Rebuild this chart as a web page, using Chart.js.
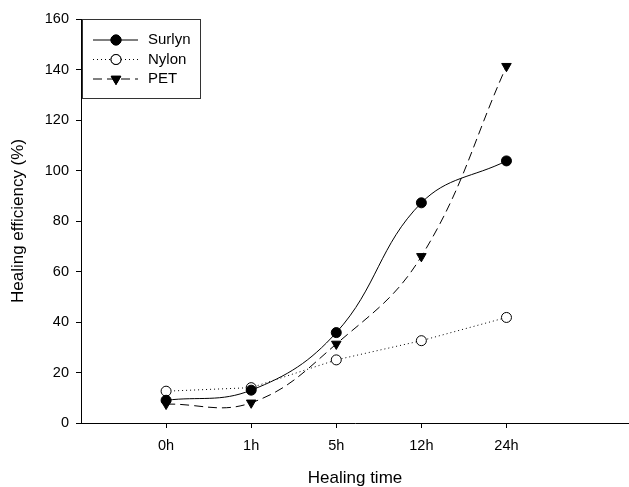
<!DOCTYPE html>
<html>
<head>
<meta charset="utf-8">
<script src="https://cdn.jsdelivr.net/npm/chart.js@4"></script>
<style>
  html, body { margin: 0; padding: 0; background: #fff; }
  #wrap { width: 629px; height: 487px; }
</style>
</head>
<body>
<div id="wrap"><canvas id="healChart"></canvas></div>
<script>
// Healing efficiency vs time
const times = ['0h', '1h', '5h', '12h', '24h'];
const surlyn = [9, 13, 35.8, 87.2, 103.8];
const nylon = [12.6, 14, 25, 32.6, 41.8];
const pet = [7.5, 8, 31.3, 66, 141.3];
const yTicks = [0, 20, 40, 60, 80, 100, 120, 140, 160];

const toPoints = vals => vals.map((v, i) => ({ x: i, y: v }));
const font = 'Liberation Sans, Arial, sans-serif';

// legend drawn inside the plot, top-left, like the original figure
const boxLegend = {
    id: 'boxLegend',
    afterDraw(chart) {
        const ctx = chart.ctx;
        const area = chart.chartArea;
        const x0 = area.left + 1, y0 = area.top, w = 118, h = 79;
        ctx.save();
        ctx.strokeStyle = '#333';
        ctx.lineWidth = 1;
        ctx.strokeRect(x0 + 0.5, y0 + 0.5, w, h);
        chart.data.datasets.forEach((ds, i) => {
            const y = y0 + 21 + i * 19.5;
            ctx.beginPath();
            ctx.setLineDash(ds.borderDash || []);
            ctx.strokeStyle = '#000';
            ctx.moveTo(x0 + 11, y);
            ctx.lineTo(x0 + 56, y);
            ctx.stroke();
            ctx.setLineDash([]);
            Chart.helpers.drawPoint(ctx, {
                pointStyle: ds.pointStyle,
                radius: ds.pointRadius,
                rotation: ds.pointRotation || 0,
                borderWidth: 1
            }, x0 + 34, y);
            ctx.fillStyle = ds.pointBackgroundColor;
            ctx.strokeStyle = '#000';
            ctx.fill();
            ctx.stroke();
            ctx.fillStyle = '#000';
            ctx.font = '15px ' + font;
            ctx.textBaseline = 'middle';
            ctx.fillText(ds.label, x0 + 66, y);
        });
        ctx.restore();
    }
};

new Chart(document.getElementById('healChart'), {
    type: 'line',
    data: {
        datasets: [
            {
                label: 'Surlyn',
                data: toPoints(surlyn),
                borderColor: '#000',
                borderWidth: 1,
                tension: 0.4,
                pointStyle: 'circle',
                pointRadius: 5,
                pointBackgroundColor: '#000',
                pointBorderColor: '#000'
            },
            {
                label: 'Nylon',
                data: toPoints(nylon),
                borderColor: '#000',
                borderWidth: 1,
                borderDash: [1, 3],
                tension: 0,
                pointStyle: 'circle',
                pointRadius: 5,
                pointBackgroundColor: '#fff',
                pointBorderColor: '#000'
            },
            {
                label: 'PET',
                data: toPoints(pet),
                borderColor: '#000',
                borderWidth: 1,
                borderDash: [9, 5],
                tension: 0.4,
                pointStyle: 'triangle',
                pointRotation: 180,
                pointRadius: 5.5,
                pointBackgroundColor: '#000',
                pointBorderColor: '#000'
            }
        ]
    },
    options: {
        responsive: true,
        maintainAspectRatio: false,
        animation: false,
        layout: { autoPadding: false, padding: { top: 19, right: 0, left: 0, bottom: 0 } },
        plugins: {
            legend: { display: false },
            tooltip: { enabled: false }
        },
        scales: {
            x: {
                type: 'linear',
                min: -1,
                max: 5.44,
                afterBuildTicks: axis => {
                    axis.ticks = times.map((t, i) => ({ value: i }));
                },
                afterFit: axis => { axis.height = 64; },
                grid: { drawOnChartArea: false, drawTicks: true, tickLength: 5, color: '#000' },
                border: { display: true, color: '#000', width: 1 },
                ticks: {
                    color: '#000',
                    font: { family: font, size: 14.5 },
                    padding: 9,
                    maxRotation: 0,
                    callback: v => times[v]
                },
                title: {
                    display: true,
                    text: 'Healing time',
                    color: '#000',
                    font: { family: font, size: 17, lineHeight: 1 },
                    padding: { top: 0, bottom: 0 }
                }
            },
            y: {
                min: 0,
                max: 160,
                afterBuildTicks: axis => {
                    axis.ticks = yTicks.map(v => ({ value: v }));
                },
                afterFit: axis => { axis.width = 81; },
                grid: { drawOnChartArea: false, drawTicks: true, tickLength: 5, color: '#000' },
                border: { display: true, color: '#000', width: 1 },
                ticks: {
                    color: '#000',
                    font: { family: font, size: 14.5 },
                    padding: 7
                },
                title: {
                    display: true,
                    text: 'Healing efficiency (%)',
                    color: '#000',
                    font: { family: font, size: 17, lineHeight: 1 },
                    padding: { top: 10, bottom: 0 }
                }
            }
        }
    },
    plugins: [boxLegend]
});
</script>
</body>
</html>
